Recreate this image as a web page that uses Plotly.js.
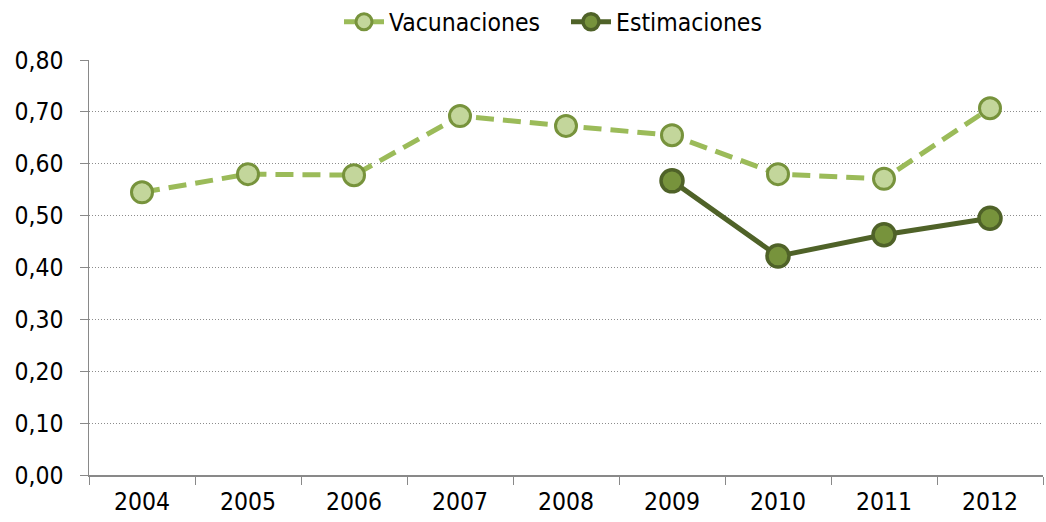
<!DOCTYPE html>
<html>
<head>
<meta charset="utf-8">
<script src="https://cdn.plot.ly/plotly-3.0.1.min.js"></script>
<style>
  html, body { margin: 0; padding: 0; background: #fff; }
  #graph { width: 1046px; height: 522px; }
</style>
</head>
<body>
<div id="graph"></div>
<script>
var years = ['2004', '2005', '2006', '2007', '2008', '2009', '2010', '2011', '2012'];
var vacunaciones = [0.545, 0.580, 0.578, 0.692, 0.673, 0.655, 0.580, 0.571, 0.707];
var estimaciones = [null, null, null, null, null, 0.567, 0.422, 0.463, 0.495];
var yTicks = [0, 0.1, 0.2, 0.3, 0.4, 0.5, 0.6, 0.7, 0.8];

var trace1 = {
    x: years,
    y: vacunaciones,
    mode: 'lines+markers',
    name: 'Vacunaciones',
    line: { color: '#9bbb59', width: 5, dash: '18px,9px' },
    marker: { size: 21, color: '#c3d69b', line: { color: '#77933c', width: 3 } }
};

var trace2 = {
    x: years,
    y: estimaciones,
    mode: 'lines+markers',
    name: 'Estimaciones',
    connectgaps: false,
    line: { color: '#4f6228', width: 5 },
    marker: { size: 22, color: '#77933c', line: { color: '#4f6228', width: 3.5 } }
};

var layout = {
    width: 1046,
    height: 522,
    margin: { l: 89, r: 3, t: 60, b: 47, autoexpand: false },
    paper_bgcolor: '#fff',
    plot_bgcolor: '#fff',
    separators: ',.',
    font: { family: 'DejaVu Sans Condensed, DejaVu Sans, sans-serif', size: 24.5, color: '#000' },
    showlegend: true,
    legend: {
        orientation: 'h',
        x: 0.5, xanchor: 'center',
        y: 1.092, yanchor: 'middle',
        font: { size: 24.5 },
        entrywidth: 172,
        itemwidth: 40
    },
    xaxis: {
        type: 'category',
        tickson: 'boundaries',
        ticks: 'outside',
        ticklen: 8,
        tickcolor: '#898989',
        ticklabelstandoff: 4,
        showline: true,
        linecolor: '#898989',
        linewidth: 1.5,
        showgrid: false,
        range: [-0.5, 8.5],
        fixedrange: true
    },
    yaxis: {
        range: [0, 0.8],
        tickvals: yTicks,
        tickformat: '.2f',
        ticks: 'outside',
        ticklen: 8,
        tickcolor: '#898989',
        ticklabelstandoff: 11,
        showline: true,
        linecolor: '#898989',
        linewidth: 1.5,
        showgrid: true,
        gridcolor: '#8c8c8c',
        griddash: '1px,2px',
        gridwidth: 1,
        zeroline: false,
        fixedrange: true
    }
};

Plotly.newPlot('graph', [trace1, trace2], layout, { displayModeBar: false, staticPlot: true });
</script>
</body>
</html>
